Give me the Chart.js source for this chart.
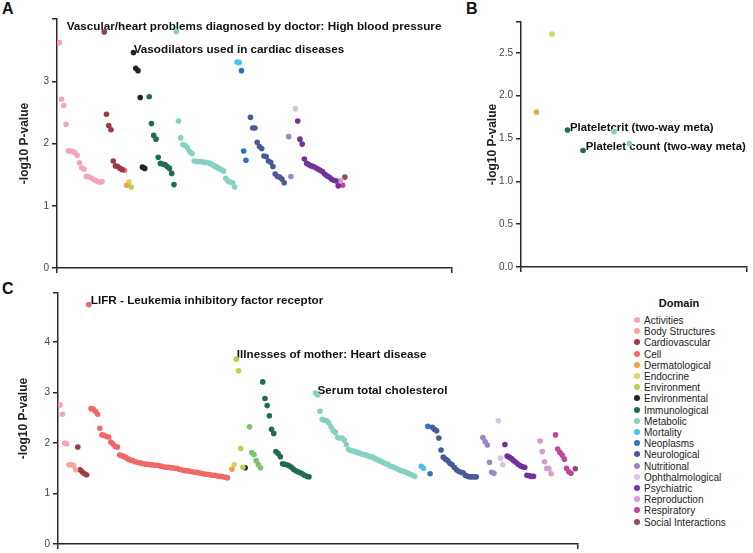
<!DOCTYPE html>
<html>
<head>
<meta charset="utf-8">
<script src="https://cdn.jsdelivr.net/npm/chart.js@4.4.1/dist/chart.umd.min.js"></script>
<style>
  body { margin: 0; width: 753px; height: 553px; position: relative; overflow: hidden; background: #fff;
         font-family: "Liberation Sans", Arial, sans-serif; }
  canvas { position: absolute; }
  .tag { position: absolute; font-weight: bold; font-size: 16px; line-height: 16px; color: #111; }
  #legendTitle { position: absolute; left: 624px; top: 297px; width: 110px; text-align: center;
                 font-weight: bold; font-size: 11px; line-height: 13px; color: #111; }
  .item { position: absolute; left: 634px; height: 12px; font-size: 10px; line-height: 12px; color: #222; white-space: nowrap; }
  .item span { display: inline-block; width: 6px; height: 6px; border-radius: 50%; margin-right: 4px; vertical-align: 1px; }
</style>
</head>
<body>
<div class="tag" style="left:2px;top:1px">A</div>
<div class="tag" style="left:466px;top:1px">B</div>
<div class="tag" style="left:2px;top:281px">C</div>
<canvas id="chartA" width="470" height="278" style="left:0;top:0"></canvas>
<canvas id="chartB" width="283" height="278" style="left:470px;top:0"></canvas>
<canvas id="chartC" width="600" height="273" style="left:0;top:280px"></canvas>
<div id="legendTitle">Domain</div>
<div id="legend"></div>
<script>
// legend domains and their colours
const domains = ['Activities', 'Body Structures', 'Cardiovascular', 'Cell', 'Dermatological', 'Endocrine',
  'Environment', 'Environmental', 'Immunological', 'Metabolic', 'Mortality', 'Neoplasms', 'Neurological',
  'Nutritional', 'Ophthalmological', 'Psychiatric', 'Reproduction', 'Respiratory', 'Social Interactions'];
const domainColors = ['#f3a5c0', '#f4a59c', '#9c3b45', '#ee6a67', '#f6a03d', '#d6d26a',
  '#b2d44e', '#222222', '#1f6d4f', '#86d1c1', '#4cc0ee', '#2f72c3', '#4a5a98',
  '#9a86c5', '#d9c2e2', '#73319b', '#d89ccb', '#c2449b', '#8f4b68'];
const extraColor = '#7cc46c'; // green group in C without a legend entry

// panel A: -log10 P per domain, sorted as plotted; start = trait index of first point
const aDomains = ['Activities', 'Cardiovascular', 'Cell', 'Dermatological', 'Endocrine', 'Environment',
  'Environmental', 'Immunological', 'Metabolic', 'Mortality', 'Neoplasms', 'Neurological', 'Nutritional',
  'Ophthalmological', 'Psychiatric', 'Reproduction', 'Respiratory', 'Social Interactions'];
const aStart = [1, 21, 30, 31, 32, 33, 34, 41, 53, 80, 82, 86, 103, 106, 107, 126, 127, 128];
const aValues = [
  [3.62, 2.71, 2.61, 2.31, 1.88, 1.88, 1.87, 1.85, 1.81, 1.69, 1.61, 1.59, 1.47, 1.47, 1.45, 1.43, 1.41, 1.39, 1.38, 1.39],
  [3.79, 2.47, 2.29, 2.22, 1.72, 1.64, 1.63, 1.60, 1.58],
  [1.57],
  [1.33],
  [1.38],
  [1.30],
  [3.46, 3.21, 3.17, 2.74, 1.62, 1.60],
  [2.75, 2.32, 2.13, 2.07, 1.78, 1.68, 1.67, 1.66, 1.63, 1.60, 1.52, 1.34],
  [3.80, 2.36, 2.09, 1.98, 1.97, 1.93, 1.87, 1.84, 1.72, 1.71, 1.71, 1.71, 1.70, 1.70, 1.69, 1.68, 1.66, 1.64,
   1.62, 1.60, 1.58, 1.56, 1.44, 1.40, 1.38, 1.37, 1.30],
  [3.31, 3.30],
  [3.17, 1.88, 1.73],
  [2.42, 2.25, 2.25, 2.02, 1.95, 1.92, 1.80, 1.79, 1.72, 1.70, 1.63, 1.51, 1.47, 1.46, 1.43, 1.37],
  [2.11, 1.47],
  [2.56],
  [2.36, 2.07, 1.99, 1.75, 1.68, 1.66, 1.64, 1.63, 1.61, 1.59, 1.57, 1.55, 1.51, 1.48, 1.46, 1.43, 1.41, 1.40, 1.32],
  [1.40],
  [1.33],
  [1.46]
];
const aLabels = [
  { text: 'Vascular/heart problems diagnosed by doctor: High blood pressure', x: 4.3, y: 3.87 },
  { text: 'Vasodilators used in cardiac diseases', x: 34.1, y: 3.51 }
];

// panel B
const bDomains = ['Dermatological', 'Endocrine', 'Immunological', 'Metabolic'];
const bStart = [1, 2, 3, 6];
const bValues = [[1.81], [2.72], [1.60, 1.36], [1.58, 1.44]];
const bLabels = [
  { text: 'Plateletcrit (two-way meta)', x: 3.16, y: 1.63 },
  { text: 'Platelet count (two-way meta)', x: 4.17, y: 1.40 }
];

// panel C
const cDomains = ['Activities', 'Body Structures', 'Cardiovascular', 'Cell', 'Dermatological', 'Endocrine',
  'Environment', 'Environmental', 'extra', 'Immunological', 'Metabolic', 'Mortality', 'Neoplasms',
  'Neurological', 'Nutritional', 'Ophthalmological', 'Psychiatric', 'Reproduction', 'Respiratory',
  'Social Interactions'];
const cStart = [1, 5, 9, 14, 79, 80, 81, 85, 87, 93, 117, 165, 168, 170, 193, 200, 203, 219, 226, 235];
const cValues = [
  [2.75, 2.57, 2.00, 1.98],
  [1.57, 1.57, 1.56, 1.47],
  [1.92, 1.47, 1.43, 1.39, 1.37],
  [4.74, 2.68, 2.67, 2.63, 2.57, 2.29, 2.16, 2.15, 2.13, 2.12, 2.02, 1.98, 1.93, 1.92,
   1.76, 1.75, 1.73, 1.71, 1.68, 1.66, 1.65, 1.63, 1.62, 1.61, 1.60, 1.59, 1.58, 1.58, 1.57, 1.57, 1.56,
   1.56, 1.55, 1.54, 1.53, 1.52, 1.52, 1.51, 1.51, 1.50, 1.50, 1.48, 1.47, 1.46, 1.45, 1.45, 1.44, 1.43,
   1.42, 1.42, 1.41, 1.40, 1.39, 1.38, 1.38, 1.37, 1.36, 1.36, 1.35, 1.34, 1.34, 1.33, 1.32, 1.31],
  [1.48],
  [1.57],
  [3.66, 3.43, 1.89, 1.52],
  [1.51],
  [2.32, 1.81, 1.77, 1.65, 1.57, 1.51],
  [3.21, 2.88, 2.74, 2.54, 2.27, 2.19, 1.83, 1.79, 1.73, 1.59, 1.58, 1.57, 1.55, 1.52, 1.48, 1.45, 1.43,
   1.41, 1.39, 1.36, 1.34, 1.33],
  [2.99, 2.95, 2.63, 2.47, 2.45, 2.44, 2.40, 2.32, 2.24, 2.21, 2.11, 2.10, 2.10, 2.06, 1.97, 1.87, 1.85,
   1.84, 1.83, 1.81, 1.80, 1.78, 1.77, 1.76, 1.74, 1.73, 1.72, 1.69, 1.67, 1.65, 1.63, 1.61, 1.59, 1.57,
   1.54, 1.53, 1.51, 1.49, 1.47, 1.45, 1.44, 1.42, 1.40, 1.38, 1.36, 1.34],
  [1.54, 1.50],
  [2.33, 1.39],
  [2.31, 2.27, 2.24, 2.10, 1.86, 1.72, 1.68, 1.65, 1.60, 1.57, 1.52, 1.47, 1.44, 1.42, 1.41, 1.36, 1.34,
   1.33, 1.33, 1.33, 1.33],
  [2.11, 2.03, 1.96, 1.62, 1.42, 1.40],
  [2.44, 1.70, 1.57],
  [1.97, 1.74, 1.72, 1.69, 1.65, 1.62, 1.58, 1.55, 1.53, 1.52, 1.36, 1.35, 1.34, 1.34],
  [2.04, 1.83, 1.63, 1.50, 1.49, 1.39],
  [2.16, 1.88, 1.81, 1.76, 1.68, 1.50, 1.43, 1.40],
  [1.49]
];
const cLabels = [
  { text: 'LIFR - Leukemia inhibitory factor receptor', x: 14.9, y: 4.81 },
  { text: 'Illnesses of mother: Heart disease', x: 81.2, y: 3.74 },
  { text: 'Serum total cholesterol', x: 117.9, y: 3.03 }
];

const axisColor = '#2f2727';
Chart.defaults.font.family = '"Liberation Sans", Arial, sans-serif';

function colorOf(name) {
  const i = domains.indexOf(name);
  return i < 0 ? extraColor : domainColors[i];
}

function buildDatasets(names, starts, values) {
  return names.map((name, k) => ({
    label: name,
    data: values[k].map((v, i) => ({ x: starts[k] + i, y: v })),
    backgroundColor: colorOf(name),
    borderWidth: 0,
    pointRadius: 2.8,
    pointHoverRadius: 2.8
  }));
}

// text labels placed at data coordinates, drawn under the points
function labelPlugin(items, size) {
  return {
    id: 'traitLabels',
    beforeDatasetsDraw(chart) {
      const { ctx, scales: { x, y } } = chart;
      ctx.save();
      ctx.font = 'bold ' + size + 'px "Liberation Sans", Arial, sans-serif';
      ctx.fillStyle = '#111';
      ctx.textBaseline = 'middle';
      items.forEach(it => ctx.fillText(it.text, x.getPixelForValue(it.x), y.getPixelForValue(it.y)));
      ctx.restore();
    }
  };
}

function makeChart(id, cfg) {
  const yTicks = cfg.yTicks;
  new Chart(document.getElementById(id), {
    type: 'scatter',
    data: { datasets: buildDatasets(cfg.names, cfg.starts, cfg.values) },
    options: {
      responsive: false,
      animation: false,
      events: [],
      layout: { padding: { left: cfg.padLeft, top: cfg.padTop, right: cfg.padRight, bottom: 0 } },
      scales: {
        x: {
          type: 'linear', min: 0, max: cfg.xMax,
          afterBuildTicks: s => { s.ticks = [{ value: 0 }, { value: cfg.xMax }]; },
          ticks: { display: false },
          grid: { drawOnChartArea: false, drawTicks: true, tickLength: 5, color: axisColor, lineWidth: 1.5 },
          border: { color: axisColor, width: 1.5 },
          afterFit: s => { s.height = cfg.xHeight; }
        },
        y: {
          min: 0, max: cfg.yMax,
          afterBuildTicks: s => { s.ticks = yTicks.concat([cfg.yMax]).map(v => ({ value: v })); },
          ticks: {
            autoSkip: false, color: '#444', font: { size: 10 }, padding: 3,
            callback: v => yTicks.includes(v) ? v.toFixed(cfg.digits) : ''
          },
          grid: { drawOnChartArea: false, drawTicks: true, tickLength: 5, color: axisColor, lineWidth: 1.5 },
          border: { color: axisColor, width: 1.5 },
          title: { display: true, text: '-log10 P-value', color: '#222', font: { size: 12, weight: 'bold' },
                   padding: { top: 0, bottom: 0 } },
          afterFit: s => { s.width = cfg.yWidth; }
        }
      },
      plugins: { legend: { display: false }, tooltip: { enabled: false } }
    },
    plugins: [labelPlugin(cfg.labels, cfg.labelSize)]
  });
}

makeChart('chartA', {
  names: aDomains, starts: aStart, values: aValues, labels: aLabels, labelSize: 11.7,
  xMax: 175.6, yMax: 4.0, yTicks: [0, 1, 2, 3], digits: 0,
  padLeft: 17, yWidth: 40, padTop: 19, padRight: 18, xHeight: 10
});
makeChart('chartB', {
  names: bDomains, starts: bStart, values: bValues, labels: bLabels, labelSize: 11.4,
  xMax: 14.58, yMax: 2.86, yTicks: [0, 0.5, 1, 1.5, 2, 2.5], digits: 1,
  padLeft: 15, yWidth: 36, padTop: 22, padRight: 6, xHeight: 11
});
makeChart('chartC', {
  names: cDomains, starts: cStart, values: cValues, labels: cLabels, labelSize: 11.7,
  xMax: 236.2, yMax: 4.97, yTicks: [0, 1, 2, 3, 4], digits: 0,
  padLeft: 16, yWidth: 42, padTop: 13, padRight: 22, xHeight: 7
});

// domain legend
const legend = document.getElementById('legend');
domains.forEach((name, i) => {
  const row = document.createElement('div');
  row.className = 'item';
  row.style.top = (315 + i * 11.2) + 'px';
  row.innerHTML = '<span style="background:' + domainColors[i] + '"></span>' + name;
  legend.appendChild(row);
});
</script>
</body>
</html>
